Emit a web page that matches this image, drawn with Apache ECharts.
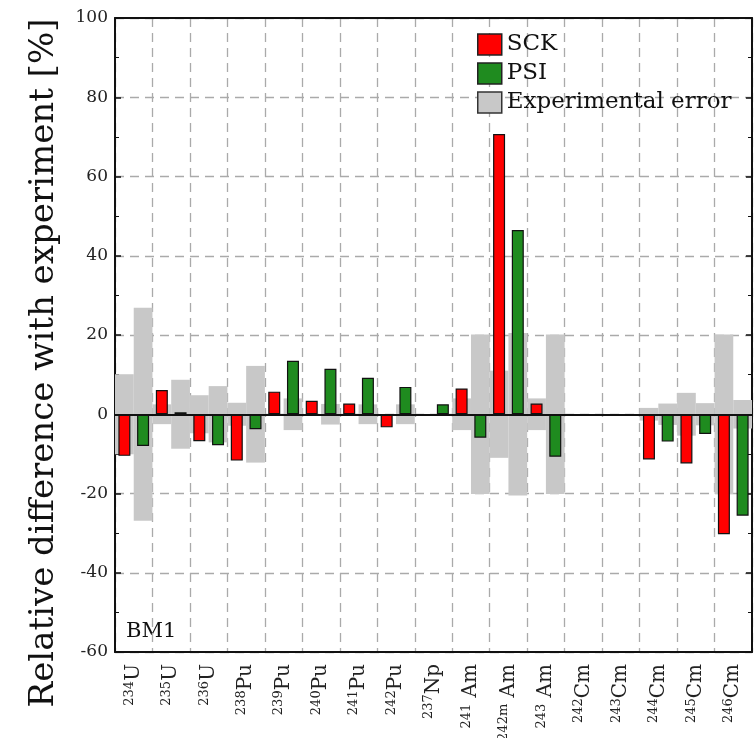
<!DOCTYPE html>
<html>
<head>
<meta charset="utf-8">
<script src="https://cdn.jsdelivr.net/npm/echarts@6/dist/echarts.min.js"></script>
<style>
html,body{margin:0;padding:0;background:#fff;}
#chart{width:756px;height:738px;}
</style>
</head>
<body>
<div id="chart"></div>
<script>
// ---- data ----
const massNumbers = ['234','235','236','238','239','240','241','242','237','241','242m','243','242','243','244','245','246'];
const elements    = ['U','U','U','Pu','Pu','Pu','Pu','Pu','Np',' Am',' Am',' Am','Cm','Cm','Cm','Cm','Cm'];
const sckValues = [-10.5, 6.1, -6.8, -11.7, 5.7, 3.4, 2.7, -3.3, null, 6.5, 70.7, 2.7, null, null, -11.4, -12.4, -30.3];
const psiValues = [-8.0, 0.5, -7.8, -3.8, 13.5, 11.5, 9.2, 6.9, 2.5, -5.9, 46.5, -10.7, null, null, -6.9, -5.0, -25.6];
const errSck = [10.1, 2.5, 4.8, 2.9, 0, 0, 0, 0, 0, 4.0, 11.0, 4.0, 0, 0, 1.6, 5.4, 20.1];
const errPsi = [26.9, 8.7, 7.1, 12.2, 4.0, 2.6, 2.5, 2.5, 0, 20.1, 20.5, 20.1, 0, 0, 2.7, 2.8, 3.6];
const yTicks = [-60, -40, -20, 0, 20, 40, 60, 80, 100];

const categories = massNumbers.map((m, i) => m + '|' + elements[i]);
const serif = 'DejaVu Serif';
const grey = '#c8c8c8';

const chart = echarts.init(document.getElementById('chart'), null, {renderer: 'canvas'});

const greyBar = (data, stack, name) => ({
  name: name, type: 'bar', xAxisIndex: 0, yAxisIndex: 0, stack: stack,
  data: data, barGap: '0%', barCategoryGap: '0%',
  itemStyle: {color: grey}, z: 1, silent: true
});

const option = {
  animation: false,
  backgroundColor: '#fff',
  grid: {left: 115, right: 4, top: 18, bottom: 86, containLabel: false, outerBoundsMode: 'none'},
  legend: {
    top: 28, left: 472, orient: 'vertical', itemWidth: 24, itemHeight: 21, itemGap: 6,
    textStyle: {fontFamily: serif, fontSize: 23, color: '#111'},
    data: [
      {name: 'SCK', icon: 'rect', itemStyle: {color: '#ff0000', borderColor: '#222', borderWidth: 1.5}},
      {name: 'PSI', icon: 'rect', itemStyle: {color: '#1f8b1f', borderColor: '#222', borderWidth: 1.5}},
      {name: 'Experimental error', icon: 'rect', itemStyle: {color: grey, borderColor: '#333', borderWidth: 1.5}}
    ]
  },
  xAxis: [
    {
      type: 'category', data: categories, position: 'bottom',
      axisLine: {onZero: false, lineStyle: {color: '#111', width: 2}},
      axisTick: {show: false},
      splitLine: {show: true, lineStyle: {color: '#aaa', type: [9, 6], width: 1.3}},
      axisLabel: {
        rotate: 90, interval: 0, margin: 12,
        formatter: v => { const p = v.split('|'); return '{s|' + p[0] + '}{m|' + p[1] + '}'; },
        rich: {
          s: {fontFamily: serif, fontSize: 13, color: '#222', verticalAlign: 'top', lineHeight: 22, padding: [0, 0, 8, 0]},
          m: {fontFamily: serif, fontSize: 20, color: '#222', lineHeight: 22}
        }
      }
    },
    {
      type: 'category', data: categories, position: 'top',
      axisLine: {onZero: false, lineStyle: {color: '#111', width: 2}},
      axisTick: {show: false}, axisLabel: {show: false}, splitLine: {show: false}
    }
  ],
  yAxis: [
    {
      type: 'value', min: -60, max: 100, interval: 20, position: 'left',
      name: 'Relative difference with experiment [%]', nameLocation: 'middle', nameGap: 54,
      nameTextStyle: {fontFamily: serif, fontSize: 34, color: '#111', padding: [0, 56, 0, 0]},
      axisLine: {show: true, lineStyle: {color: '#111', width: 2}},
      axisTick: {show: true, inside: true, length: 6, lineStyle: {color: '#111', width: 1.5}},
      minorTick: {show: true, splitNumber: 2, length: 4, lineStyle: {color: '#111', width: 1}},
      axisLabel: {fontFamily: serif, fontSize: 17, color: '#222', margin: 7,
        formatter: v => yTicks.includes(v) ? String(v) : ''},
      splitLine: {show: true, lineStyle: {color: '#aaa', type: [9, 6], width: 1.3}}
    },
    {
      type: 'value', min: -60, max: 100, interval: 20, position: 'right',
      axisLine: {show: true, lineStyle: {color: '#111', width: 2}},
      axisTick: {show: true, inside: true, length: 6, lineStyle: {color: '#111', width: 1.5}},
      minorTick: {show: true, splitNumber: 2, length: 4, lineStyle: {color: '#111', width: 1}},
      axisLabel: {show: false}, splitLine: {show: false}
    }
  ],
  series: [
    greyBar(errSck, 'sck', 'Experimental error'),
    greyBar(errSck.map(v => -v), 'sck', 'errSckNeg'),
    greyBar(errPsi, 'psi', 'errPsiPos'),
    greyBar(errPsi.map(v => -v), 'psi', 'errPsiNeg'),
    {
      name: 'SCK', type: 'bar', xAxisIndex: 1, yAxisIndex: 0, data: sckValues,
      barWidth: 12, barGap: '56%', z: 3,
      itemStyle: {color: '#ff0000', borderColor: '#111', borderWidth: 1.2},
      markLine: {
        silent: true, symbol: 'none', label: {show: false}, z: 4,
        lineStyle: {color: '#111', type: 'solid', width: 2},
        data: [{yAxis: 0}]
      }
    },
    {
      name: 'PSI', type: 'bar', xAxisIndex: 1, yAxisIndex: 0, data: psiValues,
      barWidth: 12, barGap: '56%', z: 3,
      itemStyle: {color: '#1f8b1f', borderColor: '#111', borderWidth: 1.2}
    }
  ],
  graphic: [{
    type: 'text', left: 126, top: 621,
    style: {text: 'BM1', font: '21px "' + serif + '"', fill: '#111'}
  }]
};
chart.setOption(option);
</script>
</body>
</html>
